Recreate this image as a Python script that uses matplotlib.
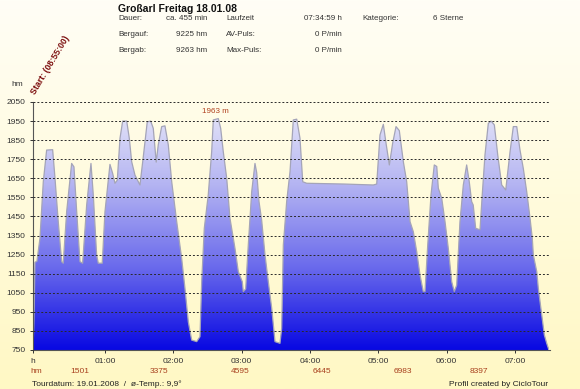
import matplotlib
matplotlib.use("Agg")
import matplotlib.pyplot as plt
import numpy as np
from matplotlib.colors import LinearSegmentedColormap
from matplotlib.patches import Polygon

plt.rcParams['font.family'] = ['Liberation Sans', 'DejaVu Sans']

# elevation profile: time (h) / altitude (hm)
hours = [-0.054, -0.04, -0.025, 0.004, 0.048, 0.097, 0.146, 0.234, 0.268, 0.316,
         0.366, 0.389, 0.439, 0.512, 0.546, 0.586, 0.634, 0.673, 0.732, 0.795,
         0.829, 0.878, 0.902, 0.960, 1.000, 1.073, 1.113, 1.146, 1.180, 1.220,
         1.259, 1.318, 1.356, 1.391, 1.439, 1.512, 1.561, 1.619, 1.669, 1.707,
         1.750, 1.780, 1.830, 1.878, 1.927, 1.977, 2.050, 2.123, 2.171, 2.220,
         2.269, 2.343, 2.391, 2.416, 2.454, 2.512, 2.562, 2.586, 2.659, 2.694,
         2.732, 2.782, 2.830, 2.903, 2.952, 3.010, 3.025, 3.060, 3.098, 3.148,
         3.196, 3.221, 3.255, 3.294, 3.343, 3.391, 3.441, 3.489, 3.562, 3.587,
         3.611, 3.660, 3.709, 3.757, 3.807, 3.855, 3.895, 3.953, 4.500, 4.928,
         4.978, 5.026, 5.075, 5.114, 5.163, 5.212, 5.261, 5.309, 5.368, 5.417,
         5.466, 5.514, 5.564, 5.612, 5.660, 5.685, 5.725, 5.773, 5.821, 5.857,
         5.880, 5.930, 5.978, 6.026, 6.076, 6.114, 6.149, 6.197, 6.246, 6.295,
         6.333, 6.368, 6.391, 6.427, 6.490, 6.523, 6.563, 6.612, 6.652, 6.700,
         6.750, 6.808, 6.867, 6.930, 6.978, 7.028, 7.076, 7.124, 7.174, 7.223,
         7.256, 7.271, 7.321, 7.344, 7.394, 7.432, 7.467, 7.490]
altitude = [750, 900, 1210, 1215, 1335, 1632, 1798, 1800, 1652, 1423,
            1213, 1205, 1475, 1728, 1710, 1475, 1213, 1205, 1510, 1728,
            1563, 1248, 1205, 1205, 1475, 1723, 1675, 1624, 1640, 1860,
            1950, 1950, 1860, 1737, 1667, 1615, 1763, 1946, 1950, 1912,
            1735, 1825, 1921, 1925, 1825, 1632, 1423, 1230, 1073, 898,
            802, 794, 820, 1108, 1388, 1563, 1789, 1956, 1963, 1912,
            1789, 1650, 1440, 1283, 1161, 1108, 1056, 1070, 1300, 1580,
            1728, 1680, 1528, 1430, 1248, 1108, 969, 794, 785, 864,
            1300, 1528, 1685, 1956, 1960, 1860, 1632, 1624, 1620, 1615,
            1620, 1877, 1933, 1835, 1720, 1835, 1921, 1900, 1737, 1632,
            1423, 1370, 1265, 1143, 1056, 1056, 1300, 1563, 1720, 1712,
            1598, 1545, 1423, 1283, 1108, 1056, 1090, 1423, 1615, 1720,
            1632, 1528, 1510, 1388, 1380, 1563, 1772, 1938, 1950, 1930,
            1772, 1615, 1589, 1789, 1921, 1921, 1798, 1702, 1580, 1440,
            1335, 1248, 1161, 1073, 934, 829, 785, 760]

y_ticks = list(range(750, 2051, 100))
x_ticks = [-0.061, 1, 2, 3, 4, 5, 6, 7]
x_labels = ['h', '01:00', '02:00', '03:00', '04:00', '05:00', '06:00', '07:00']

# cumulative climb markers below the axis
climb_hours = [0.634, 1.79, 2.977, 4.177, 5.363, 6.476]
climb_labels = ['1501', '3375', '4595', '6445', '6983', '8397']

info_rows = [
    ['Dauer:', 'ca. 455 min', 'Laufzeit', '07:34:59 h', 'Kategorie:', '6 Sterne'],
    ['Bergauf:', '9225 hm', 'AV-Puls:', '0 P/min', '', ''],
    ['Bergab:', '9263 hm', 'Max-Puls:', '0 P/min', '', ''],
]

W, H = 580, 389
fig = plt.figure(figsize=(W / 100, H / 100), dpi=100)

# background gradient (white-cream to pale yellow)
bg = fig.add_axes([0, 0, 1, 1], zorder=-10)
top = np.array([255, 254, 246]) / 255
bot = np.array([255, 248, 196]) / 255
g = np.linspace(0, 1, 256)[:, None, None]
bg.imshow(top * (1 - g) + bot * g, aspect='auto', extent=[0, 1, 0, 1])
bg.axis('off')

x0, x1, y0, y1 = 32.5, 550, 102, 350
ax = fig.add_axes([x0 / W, (H - y1) / H, (x1 - x0) / W, (y1 - y0) / H])
ax.patch.set_alpha(0)
xmin, xmax = -0.061, 7.515
ax.set_xlim(xmin, xmax)
ax.set_ylim(750, 2050)

# blue gradient fill clipped to the profile
cmap = LinearSegmentedColormap.from_list('prof', ['#0808E2', '#6A6AEC', '#B4B4F2', '#EAEAF9'])
verts = [(hours[0], 750)] + list(zip(hours, altitude)) + [(hours[-1], 750)]
poly = Polygon(verts, closed=True, facecolor='none', edgecolor='none')
ax.add_patch(poly)
grad = np.linspace(0, 1, 256)[:, None]
im = ax.imshow(grad, cmap=cmap, origin='lower', aspect='auto',
               extent=[xmin, xmax, 750, 2050], zorder=1)
im.set_clip_path(poly)
ax.plot(hours, altitude, color='#A4A4B8', lw=0.9, zorder=2)

ax.set_yticks(y_ticks)
ax.set_xticks(x_ticks)
ax.set_xticklabels(x_labels)
ax.yaxis.grid(True, linestyle=(0, (2, 2)), color='#2a2a2a', lw=0.7, zorder=3)
ax.set_axisbelow(False)
ax.tick_params(axis='both', labelsize=6, colors='#333333', length=2.5, width=0.7)
ax.tick_params(axis='y', pad=2.5)
ax.tick_params(axis='x', pad=3)
for s in ['top', 'right']:
    ax.spines[s].set_visible(False)
for s in ['left', 'bottom']:
    ax.spines[s].set_color('#555555')
    ax.spines[s].set_linewidth(0.8)

ax.text(2.62, 1998, '1963 m', color='#B0401E', fontsize=5.8, ha='center', va='center')

red = '#A8401E'
ax.text(0.0, -0.088, 'hm', color=red, fontsize=6, ha='center', va='center',
        transform=ax.get_xaxis_transform())
for h, lab in zip(climb_hours, climb_labels):
    ax.text(h, -0.088, lab, color=red, fontsize=6, ha='center', va='center',
            transform=ax.get_xaxis_transform())

# header
fig.text(118 / W, 1 - 9.5 / H, 'Großarl Freitag 18.01.08', fontsize=7.5, fontweight='bold',
         ha='left', va='center', color='#111111')
row_y = [19, 35, 50]
for ry, row in zip(row_y, info_rows):
    yy = 1 - ry / H
    fig.text(118 / W, yy, row[0], fontsize=5.8, ha='left', va='center', color='#333333')
    fig.text(207 / W, yy, row[1], fontsize=5.8, ha='right', va='center', color='#333333')
    fig.text(226 / W, yy, row[2], fontsize=5.8, ha='left', va='center', color='#333333')
    fig.text(342 / W, yy, row[3], fontsize=5.8, ha='right', va='center', color='#333333')
    if row[4]:
        fig.text(362 / W, yy, row[4], fontsize=5.8, ha='left', va='center', color='#333333')
        fig.text(433 / W, yy, row[5], fontsize=5.8, ha='left', va='center', color='#333333')

fig.text(35 / W, 1 - 95 / H, 'Start: (08:55:00)', fontsize=6.3, fontweight='bold',
         color='#7A0A0A', rotation=59, rotation_mode='anchor', ha='left', va='baseline')
fig.text(17 / W, 1 - 84 / H, 'hm', fontsize=6, ha='center', va='center', color='#333333')

fig.text(32 / W, 1 - 384 / H, 'Tourdatum: 19.01.2008  /  ø-Temp.: 9,9°', fontsize=6,
         ha='left', va='center', color='#222222')
fig.text(548 / W, 1 - 384 / H, 'Profil created by CicloTour', fontsize=6,
         ha='right', va='center', color='#222222')

fig.savefig('out.png', dpi=100)
